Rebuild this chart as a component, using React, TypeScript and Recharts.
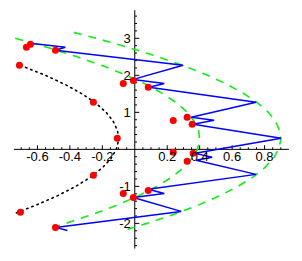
import { ScatterChart, Scatter, XAxis, YAxis, ReferenceLine, ReferenceDot } from 'recharts';

// all points are [x, y]
const outerCurve = [
  [-0.376, 3.16], [-0.237, 3.0], [-0.036, 2.75], [0.145, 2.5], [0.307, 2.25], [0.449, 2.0],
  [0.572, 1.75], [0.675, 1.5], [0.759, 1.25], [0.824, 1.0], [0.868, 0.75], [0.894, 0.5],
  [0.9, 0.25], [0.886, 0], [0.853, -0.25], [0.8, -0.5], [0.728, -0.75], [0.636, -1.0],
  [0.525, -1.25], [0.395, -1.5], [0.244, -1.75], [0.075, -2.0], [-0.044, -2.16],
];

const innerCurve = [
  [-0.737, 3.0], [-0.536, 2.75], [-0.355, 2.5], [-0.193, 2.25], [-0.051, 2.0], [0.072, 1.75],
  [0.175, 1.5], [0.259, 1.25], [0.324, 1.0], [0.368, 0.75], [0.394, 0.5], [0.4, 0.25],
  [0.386, 0], [0.353, -0.25], [0.3, -0.5], [0.228, -0.75], [0.136, -1.0], [0.025, -1.25],
  [-0.105, -1.5], [-0.256, -1.75], [-0.425, -2.0], [-0.544, -2.16],
];

const dottedCurve = [
  [-0.705, 2.27], [-0.551, 2.0], [-0.428, 1.75], [-0.325, 1.5], [-0.241, 1.25], [-0.176, 1.0],
  [-0.132, 0.75], [-0.106, 0.5], [-0.1, 0.25], [-0.114, 0], [-0.147, -0.25], [-0.2, -0.5],
  [-0.272, -0.75], [-0.364, -1.0], [-0.475, -1.25], [-0.605, -1.5], [-0.745, -1.74],
];

const zigzag = [
  [-0.643, 2.865], [-0.428, 2.757], [-0.489, 2.676], [0.298, 2.27], [-0.009, 1.89], [0.182, 1.78],
  [0.089, 1.68], [0.748, 1.27], [0.348, 0.865], [0.489, 0.784], [0.36, 0.676], [0.902, 0.3],
  [0.372, -0.108], [0.477, -0.216], [0.378, -0.297], [0.748, -0.676], [0.083, -1.08], [0.182, -1.19],
  [-0.009, -1.3], [0.286, -1.676], [-0.489, -2.108], [-0.415, -2.19],
];

const redPoints = [
  [-0.643, 2.84], [-0.668, 2.76], [-0.489, 2.68], [-0.711, 2.27], [-0.255, 1.27], [-0.108, 0.3],
  [-0.071, 1.78], [-0.009, 1.86], [0.083, 1.68], [0.237, 0.78], [0.323, 0.865], [0.354, 0.676],
  [0.237, -0.08], [0.36, -0.108], [0.323, -0.324], [-0.255, -0.7], [-0.071, -1.19], [-0.009, -1.3],
  [0.083, -1.11], [-0.489, -2.11], [-0.705, -1.7],
];

const xTickLabels = ['-0.6', '-0.4', '-0.2', '0.2', '0.4', '0.6', '0.8'];
const yTickLabels = ['-2', '-1', '1', '2', '3'];

const toObjs = (pts: number[][]) => pts.map(([x, y]) => ({ x, y }));

const xMinor: number[] = [];
for (let i = -14; i <= 18; i++) if (i !== 0) xMinor.push(i * 0.05);
const yMinor: number[] = [];
for (let i = -13; i <= 18; i++) if (i !== 0) yMinor.push(i * 0.2);

const font = 'Liberation Sans, Arial, sans-serif';
const noShape = () => <g />;
const redDot = (p: any) => <circle cx={p.cx} cy={p.cy} r={3.5} fill="#ff0000" />;

export default function App() {
  return (
    <div style={{ position: 'absolute', left: 0, top: 0, background: '#fff' }}>
      <ScatterChart width={302} height={261} margin={{ top: 5, right: 5, bottom: 8, left: 5 }}>
        <XAxis type="number" dataKey="x" domain={[-0.8, 1.0]} hide />
        <YAxis type="number" dataKey="y" domain={[-2.8, 3.9]} hide />
        <ReferenceLine segment={[{ x: -0.745, y: 0 }, { x: 0.95, y: 0 }]} stroke="#000" strokeWidth={1} />
        <ReferenceLine segment={[{ x: 0, y: -2.68 }, { x: 0, y: 3.76 }]} stroke="#000" strokeWidth={1} />
        {xMinor.map((t) => {
          const major = Math.abs(Math.round(t * 100) % 20) === 0;
          return (
            <ReferenceLine key={'xt' + t} segment={[{ x: t, y: 0 }, { x: t, y: major ? 0.11 : 0.055 }]} stroke="#000" />
          );
        })}
        {yMinor.map((t) => {
          const major = Math.abs(Math.round(t * 10) % 10) === 0;
          return (
            <ReferenceLine key={'yt' + t} segment={[{ x: 0, y: t }, { x: major ? 0.028 : 0.014, y: t }]} stroke="#000" />
          );
        })}
        {xTickLabels.map((l) => (
          <ReferenceDot key={'xl' + l} x={Number(l)} y={0} r={0} stroke="none" fill="none"
            label={{ value: l, position: 'bottom', offset: 2, fill: '#000', fontSize: 13, fontFamily: font }} />
        ))}
        {yTickLabels.map((l) => (
          <ReferenceDot key={'yl' + l} x={0} y={Number(l)} r={0} stroke="none" fill="none"
            label={{ value: l, position: 'left', offset: 4, fill: '#000', fontSize: 13, fontFamily: font }} />
        ))}
        <Scatter data={toObjs(dottedCurve)} line={{ stroke: '#000', strokeWidth: 1.6, strokeDasharray: '1.5 4', strokeLinecap: 'round' }} shape={noShape} isAnimationActive={false} />
        <Scatter data={toObjs(outerCurve)} line={{ stroke: '#11ee11', strokeWidth: 1.6, strokeDasharray: '8 7' }} shape={noShape} isAnimationActive={false} />
        <Scatter data={toObjs(innerCurve)} line={{ stroke: '#11ee11', strokeWidth: 1.6, strokeDasharray: '8 7' }} shape={noShape} isAnimationActive={false} />
        <Scatter data={toObjs(zigzag)} line={{ stroke: '#0000ff', strokeWidth: 1.5 }} shape={noShape} isAnimationActive={false} />
        <Scatter data={toObjs(redPoints)} shape={redDot} isAnimationActive={false} />
      </ScatterChart>
    </div>
  );
}
